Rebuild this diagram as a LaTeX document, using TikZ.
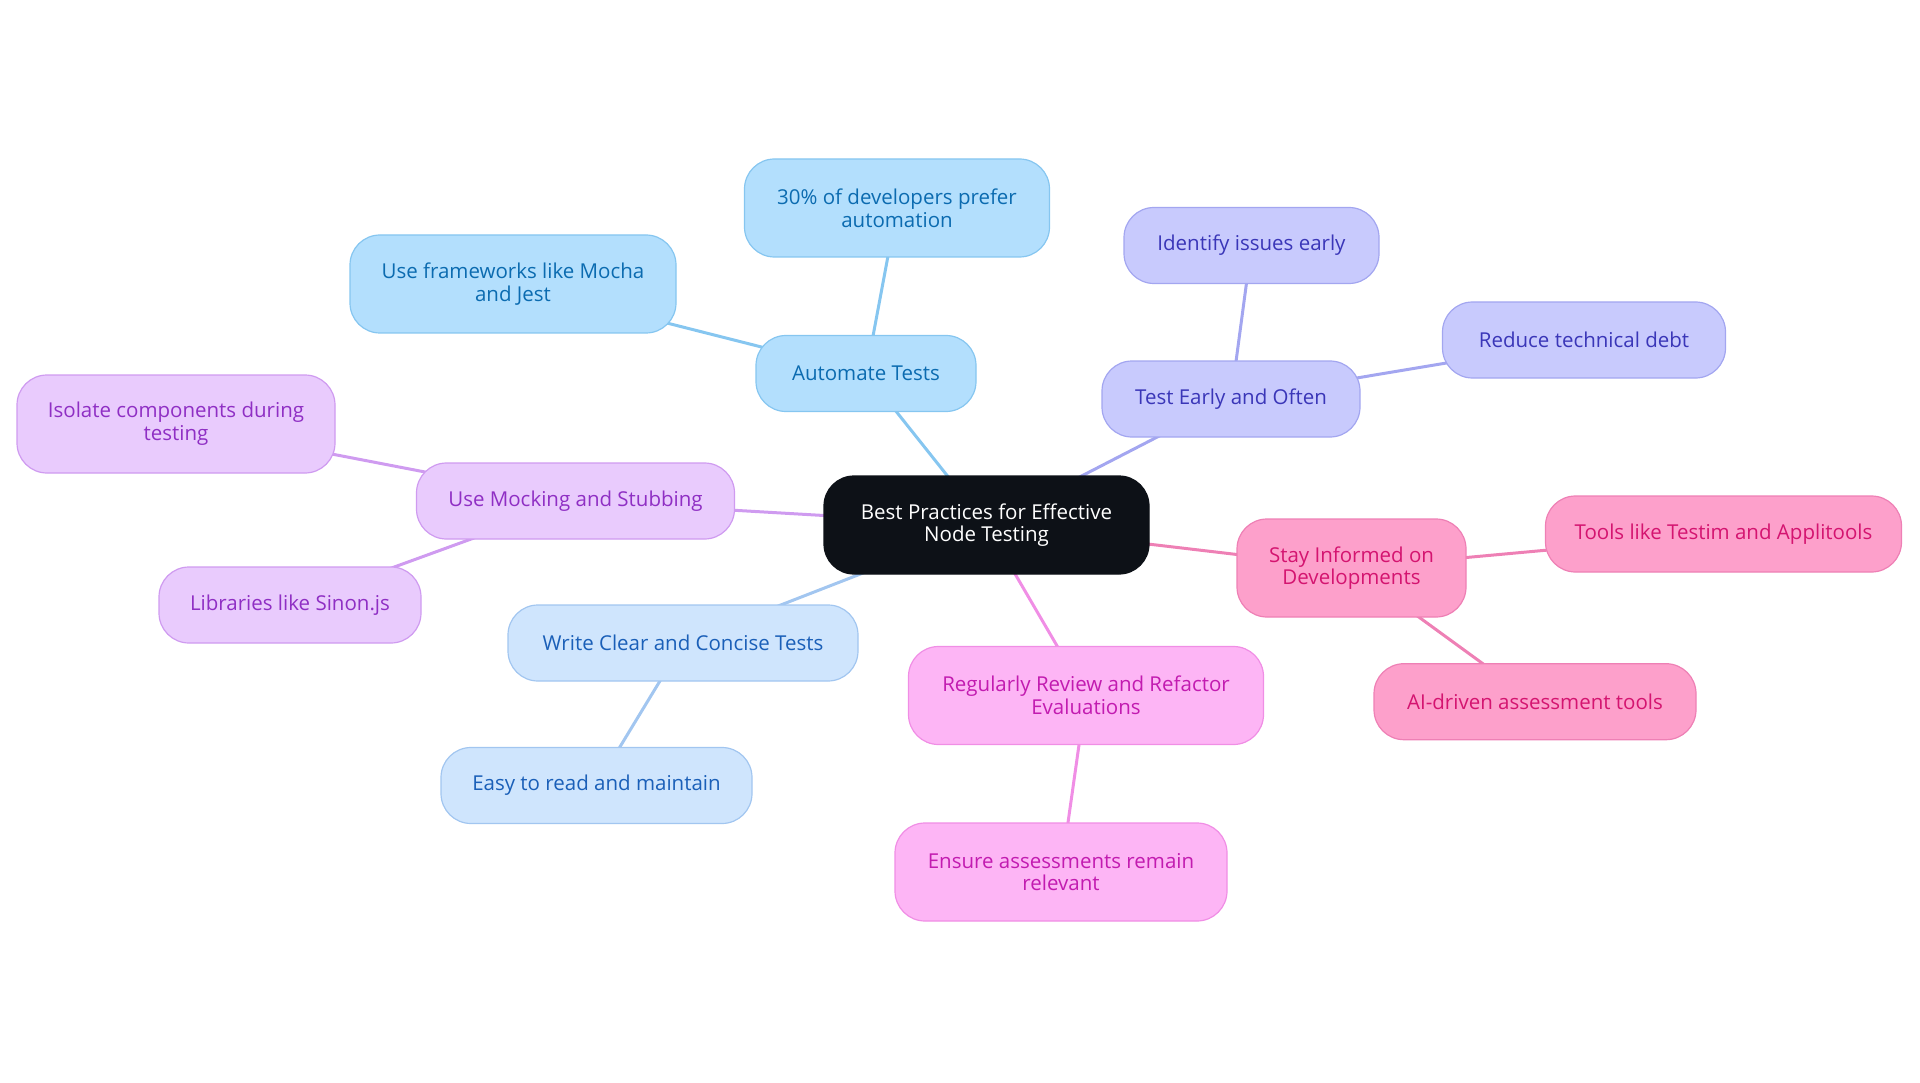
\documentclass[tikz,border=0pt]{standalone}
\usepackage{fontspec}
\setmainfont{Open Sans}
\usetikzlibrary{positioning,backgrounds}
\definecolor{rootdark}{HTML}{0D1117}
\definecolor{autofill}{HTML}{B3DFFD}
\definecolor{autodraw}{HTML}{86C6F0}
\definecolor{autotext}{HTML}{0B6BB0}
\definecolor{earlyfill}{HTML}{C8CAFD}
\definecolor{earlydraw}{HTML}{A3A6F0}
\definecolor{earlytext}{HTML}{3A36B8}
\definecolor{mockfill}{HTML}{E9CBFD}
\definecolor{mockdraw}{HTML}{CF9BF0}
\definecolor{mocktext}{HTML}{8F2FC4}
\definecolor{clearfill}{HTML}{CFE5FD}
\definecolor{cleardraw}{HTML}{A2C6F0}
\definecolor{cleartext}{HTML}{1A5FB8}
\definecolor{reviewfill}{HTML}{FDB5F5}
\definecolor{reviewdraw}{HTML}{F08EE5}
\definecolor{reviewtext}{HTML}{C21BB0}
\definecolor{trendfill}{HTML}{FDA0CB}
\definecolor{trenddraw}{HTML}{EE80B5}
\definecolor{trendtext}{HTML}{D41470}

\begin{document}
\begin{tikzpicture}[
    x=1pt, y=-1pt,
    idea/.style={rectangle, draw, rounded corners=30pt, line width=1.2pt, align=center, minimum height=76pt, inner xsep=0pt, font=\fontsize{20.5}{22.7}\selectfont},
    tall/.style={minimum height=98pt},
    root/.style={idea, fill=rootdark, draw=rootdark, text=white},
    autobox/.style={idea, fill=autofill, draw=autodraw, text=autotext},
    earlybox/.style={idea, fill=earlyfill, draw=earlydraw, text=earlytext},
    mockbox/.style={idea, fill=mockfill, draw=mockdraw, text=mocktext},
    clearbox/.style={idea, fill=clearfill, draw=cleardraw, text=cleartext},
    reviewbox/.style={idea, fill=reviewfill, draw=reviewdraw, text=reviewtext},
    trendbox/.style={idea, fill=trendfill, draw=trenddraw, text=trendtext},
    link/.style={line width=3pt}
]
\useasboundingbox (0,0) rectangle (1920,1083);

\node[root, tall, minimum width=325pt] (root) at (986.5,525) {Best Practices for Effective\\Node Testing};

% Automate Tests
\node[autobox, minimum width=220pt] (automate) at (866,373.5) {Automate Tests};
\node[autobox, tall, minimum width=305pt] (prefer) at (897,208) {30\% of developers prefer\\automation};
\node[autobox, tall, minimum width=326pt] (mocha) at (513,284) {Use frameworks like Mocha\\and Jest};

% Test Early and Often
\node[earlybox, minimum width=258pt] (early) at (1231,399) {Test Early and Often};
\node[earlybox, minimum width=255pt] (identify) at (1251.5,245.5) {Identify issues early};
\node[earlybox, minimum width=283pt] (debt) at (1584,340) {Reduce technical debt};

% Use Mocking and Stubbing
\node[mockbox, minimum width=318pt] (mocking) at (575.5,501) {Use Mocking and Stubbing};
\node[mockbox, tall, minimum width=318pt] (isolate) at (176,424) {Isolate components during\\testing};
\node[mockbox, minimum width=262pt] (sinon) at (290,605) {Libraries like Sinon.js};

% Write Clear and Concise Tests
\node[clearbox, minimum width=350pt] (clear) at (683,643) {Write Clear and Concise Tests};
\node[clearbox, minimum width=311pt] (easy) at (596.5,785.5) {Easy to read and maintain};

% Regularly Review and Refactor
\node[reviewbox, tall, minimum width=355pt] (review) at (1086,695.5) {Regularly Review and Refactor\\Evaluations};
\node[reviewbox, tall, minimum width=332pt] (relevant) at (1061,872) {Ensure assessments remain\\relevant};

% Stay Informed
\node[trendbox, tall, minimum width=229pt] (informed) at (1351.5,568) {Stay Informed on\\Developments};
\node[trendbox, minimum width=356pt] (tools) at (1723.5,534) {Tools like Testim and Applitools};
\node[trendbox, minimum width=322pt] (aitools) at (1535,701.7) {AI-driven assessment tools};

% links behind the boxes
\begin{scope}[on background layer]
\draw[link, autodraw] (root.center) -- (automate.center);
\draw[link, autodraw] (automate.center) -- (prefer.center);
\draw[link, autodraw] (automate.center) -- (mocha.center);
\draw[link, earlydraw] (root.center) -- (early.center);
\draw[link, earlydraw] (early.center) -- (identify.center);
\draw[link, earlydraw] (early.center) -- (debt.center);
\draw[link, mockdraw] (root.center) -- (mocking.center);
\draw[link, mockdraw] (mocking.center) -- (isolate.center);
\draw[link, mockdraw] (mocking.center) -- (sinon.center);
\draw[link, cleardraw] (root.center) -- (clear.center);
\draw[link, cleardraw] (clear.center) -- (easy.center);
\draw[link, reviewdraw] (root.center) -- (review.center);
\draw[link, reviewdraw] (review.center) -- (relevant.center);
\draw[link, trenddraw] (root.center) -- (informed.center);
\draw[link, trenddraw] (informed.center) -- (tools.center);
\draw[link, trenddraw] (informed.center) -- (aitools.center);
\end{scope}

\end{tikzpicture}
\end{document}
